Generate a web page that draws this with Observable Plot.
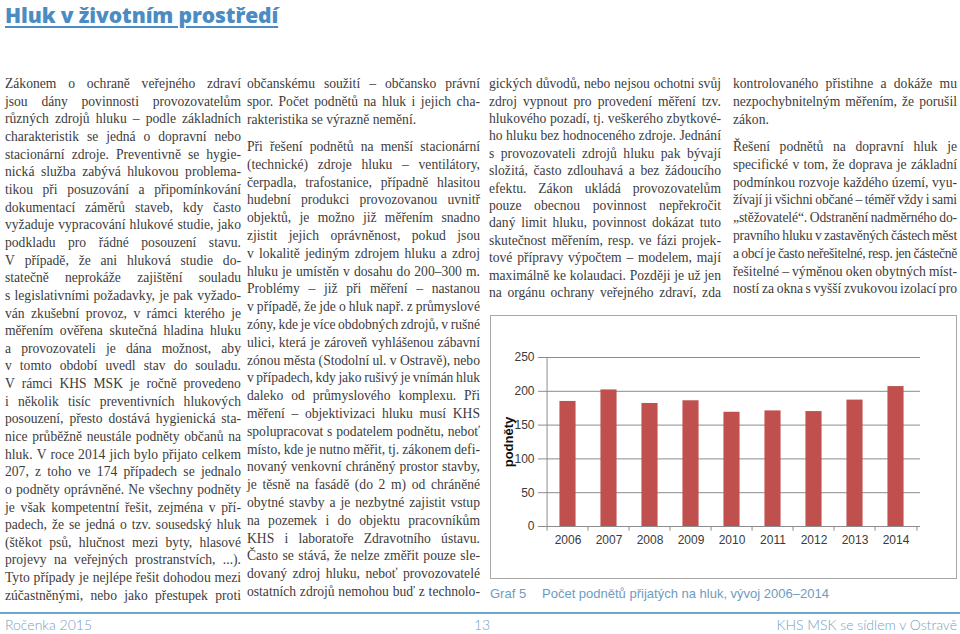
<!DOCTYPE html>
<html><head><meta charset="utf-8">
<script src="https://cdn.jsdelivr.net/npm/d3@7"></script>
<script src="https://cdn.jsdelivr.net/npm/@observablehq/plot@0.6"></script>
<style>
body{margin:0;width:960px;height:634px;position:relative;background:#fff;overflow:hidden;font-family:"Liberation Serif",serif;color:#3c3c3c}
.title{position:absolute;left:5px;top:0px;font-family:"Open Sans",sans-serif;font-weight:800;font-size:21px;line-height:30px;color:#4a8cc3;text-decoration:underline;text-decoration-thickness:2px;text-underline-offset:3px;letter-spacing:-0.1px}
.col{position:absolute;font-size:13.6px}
.line{white-space:nowrap}
.j{display:flex;justify-content:space-between}
#chart{position:absolute;left:490px;top:315px;width:466px;height:263px}
#frame{position:absolute;left:490px;top:315px;width:467px;height:264px;border:1px solid #a8a8a8;box-sizing:border-box}
.cap{position:absolute;top:586px;font-family:"Liberation Sans",sans-serif;font-size:13px;color:#6d9cbf}
.foot{position:absolute;top:616px;font-family:"Lato","Liberation Sans",sans-serif;font-weight:300;font-size:14px;color:#76a2c0}
#rule{position:absolute;left:0;top:612px;width:960px;height:2px;background:#6aa7c9}
</style></head><body>
<div class="title">Hluk v životním prostředí</div>
<div id="cols"></div>
<div id="frame"></div>
<div id="chart"></div>
<div class="cap" style="left:490px">Graf 5</div>
<div class="cap" style="left:542px">Počet podnětů přijatých na hluk, vývoj 2006–2014</div>
<div id="rule"></div>
<div class="foot" style="left:5px">Ročenka 2015</div>
<div class="foot" style="left:474px">13</div>
<div class="foot" style="right:3px">KHS MSK se sídlem v Ostravě</div>
<script>
// Chart data
const years = ["2006","2007","2008","2009","2010","2011","2012","2013","2014"];
const counts = [185, 202, 182, 186, 169, 171, 170, 187, 207];
const yTicks = [0, 50, 100, 150, 200, 250];
const yLabel = "podněty";

// Body text lines ("|" marks a paragraph's last line, "" a paragraph gap)
const col1 = [
"Zákonem o ochraně veřejného zdraví",
"jsou dány povinnosti provozovatelům",
"různých zdrojů hluku – podle základních",
"charakteristik se jedná o dopravní nebo",
"stacionární zdroje. Preventivně se hygie-",
"nická služba zabývá hlukovou problema-",
"tikou při posuzování a připomínkování",
"dokumentací záměrů staveb, kdy často",
"vyžaduje vypracování hlukové studie, jako",
"podkladu pro řádné posouzení stavu.",
"V případě, že ani hluková studie do-",
"statečně neprokáže zajištění souladu",
"s legislativními požadavky, je pak vyžado-",
"ván zkušební provoz, v rámci kterého je",
"měřením ověřena skutečná hladina hluku",
"a provozovateli je dána možnost, aby",
"v tomto období uvedl stav do souladu.",
"V rámci KHS MSK je ročně provedeno",
"i několik tisíc preventivních hlukových",
"posouzení, přesto dostává hygienická sta-",
"nice průběžně neustále podněty občanů na",
"hluk. V roce 2014 jich bylo přijato celkem",
"207, z toho ve 174 případech se jednalo",
"o podněty oprávněné. Ne všechny podněty",
"je však kompetentní řešit, zejména v pří-",
"padech, že se jedná o tzv. sousedský hluk",
"(štěkot psů, hlučnost mezi byty, hlasové",
"projevy na veřejných prostranstvích, ...).",
"Tyto případy je nejlépe řešit dohodou mezi",
"zúčastněnými, nebo jako přestupek proti"
];
const col2 = [
"občanskému soužití – občansko právní",
"spor. Počet podnětů na hluk i jejich cha-",
"rakteristika se výrazně nemění.|",
"",
"Při řešení podnětů na menší stacionární",
"(technické) zdroje hluku – ventilátory,",
"čerpadla, trafostanice, případně hlasitou",
"hudební produkci provozovanou uvnitř",
"objektů, je možno již měřením snadno",
"zjistit jejich oprávněnost, pokud jsou",
"v lokalitě jediným zdrojem hluku a zdroj",
"hluku je umístěn v dosahu do 200–300 m.",
"Problémy – již při měření – nastanou",
"v případě, že jde o hluk např. z průmyslové",
"zóny, kde je více obdobných zdrojů, v rušné",
"ulici, která je zároveň vyhlášenou zábavní",
"zónou města (Stodolní ul. v Ostravě), nebo",
"v případech, kdy jako rušivý je vnímán hluk",
"daleko od průmyslového komplexu. Při",
"měření – objektivizaci hluku musí KHS",
"spolupracovat s podatelem podnětu, neboť",
"místo, kde je nutno měřit, tj. zákonem defi-",
"novaný venkovní chráněný prostor stavby,",
"je těsně na fasádě (do 2 m) od chráněné",
"obytné stavby a je nezbytné zajistit vstup",
"na pozemek i do objektu pracovníkům",
"KHS i laboratoře Zdravotního ústavu.",
"Často se stává, že nelze změřit pouze sle-",
"dovaný zdroj hluku, neboť provozovatelé",
"ostatních zdrojů nemohou buď z technolo-"
];
const col3 = [
"gických důvodů, nebo nejsou ochotni svůj",
"zdroj vypnout pro provedení měření tzv.",
"hlukového pozadí, tj. veškerého zbytkové-",
"ho hluku bez hodnoceného zdroje. Jednání",
"s provozovateli zdrojů hluku pak bývají",
"složitá, často zdlouhavá a bez žádoucího",
"efektu. Zákon ukládá provozovatelům",
"pouze obecnou povinnost nepřekročit",
"daný limit hluku, povinnost dokázat tuto",
"skutečnost měřením, resp. ve fázi projek-",
"tové přípravy výpočtem – modelem, mají",
"maximálně ke kolaudaci. Později je už jen",
"na orgánu ochrany veřejného zdraví, zda"
];
const col4 = [
"kontrolovaného přistihne a dokáže mu",
"nezpochybnitelným měřením, že porušil",
"zákon.|",
"",
"Řešení podnětů na dopravní hluk je",
"specifické v tom, že doprava je základní",
"podmínkou rozvoje každého území, vyu-",
"žívají ji všichni občané – téměř vždy i sami",
"„stěžovatelé“. Odstranění nadměrného do-",
"pravního hluku v zastavěných částech měst",
"a obcí je často neřešitelné, resp. jen částečně",
"řešitelné – výměnou oken obytných míst-",
"ností za okna s vyšší zvukovou izolací pro"
];

const layout = [
  {lines: col1, left: 5, width: 236, lh: 17.65},
  {lines: col2, left: 247, width: 233, lh: 17.8},
  {lines: col3, left: 489, width: 232, lh: 17.4},
  {lines: col4, left: 733, width: 224, lh: 17.8}
];
const colsEl = document.getElementById("cols");
for (const c of layout) {
  const d = document.createElement("div");
  d.className = "col";
  d.style.left = c.left + "px";
  d.style.top = (85 - c.lh / 2 - 1) + "px";
  d.style.width = c.width + "px";
  colsEl.appendChild(d);
  for (const raw of c.lines) {
    const ln = document.createElement("div");
    if (raw === "") { ln.style.height = "9.5px"; d.appendChild(ln); continue; }
    const last = raw.endsWith("|");
    const text = last ? raw.slice(0, -1) : raw;
    ln.className = "line" + (last ? "" : " j");
    ln.style.height = c.lh + "px";
    ln.style.lineHeight = c.lh + "px";
    d.appendChild(ln);
    if (last) { ln.textContent = text; continue; }
    const spans = text.split(" ").map(w => { const s = document.createElement("span"); s.textContent = w; ln.appendChild(s); return s; });
    // compress letter-spacing when the words plus minimal spaces do not fit
    const wordsW = spans.reduce((a, s) => a + s.getBoundingClientRect().width, 0);
    const need = wordsW + (spans.length - 1) * 2.6;
    if (need > c.width) {
      const chars = text.replace(/ /g, "").length;
      ln.style.letterSpacing = (-(need - c.width) / chars) + "px";
    }
  }
}

// Chart
const data = years.map((y, i) => ({year: y, count: counts[i]}));
const W = 466, H = 263, mL = 53, mR = 36, mT = 42, mB = 52;
const bw = (W - mL - mR) / years.length;
const inset = (bw - 17) / 2;
const gray = "#8c8c8c";
const chart = Plot.plot({
  width: W, height: H, marginLeft: mL, marginRight: mR, marginTop: mT, marginBottom: mB,
  style: {fontFamily: "Liberation Sans, sans-serif", fontSize: "12px", color: "#3a3a3a", background: "transparent"},
  x: {domain: years, padding: 0, label: null},
  y: {domain: [0, 250], label: null},
  marks: [
    Plot.gridY(yTicks, {stroke: gray, strokeOpacity: 1}),
    Plot.barY(data, {x: "year", y: "count", fill: "#c0504d", insetLeft: inset, insetRight: inset}),
    Plot.ruleY([0], {stroke: gray}),
    Plot.ruleX([years[0]], {dx: -bw / 2, y1: 0, y2: 250, stroke: gray}),
    Plot.ruleX(years, {dx: -bw / 2, y1: 0, y2: -7, stroke: gray}),
    Plot.ruleX([years[years.length - 1]], {dx: bw / 2, y1: 0, y2: -7, stroke: gray}),
    Plot.axisY(yTicks, {tickSize: 5, tickPadding: 4, stroke: gray, label: null}),
    Plot.axisX({tickSize: 0, tickPadding: 9, label: null}),
    Plot.text([yLabel], {frameAnchor: "left", dx: -35, rotate: -90, textAnchor: "middle", fontWeight: "bold", fontSize: 13, fill: "#111"})
  ]
});
document.getElementById("chart").appendChild(chart);
</script>
</body></html>
